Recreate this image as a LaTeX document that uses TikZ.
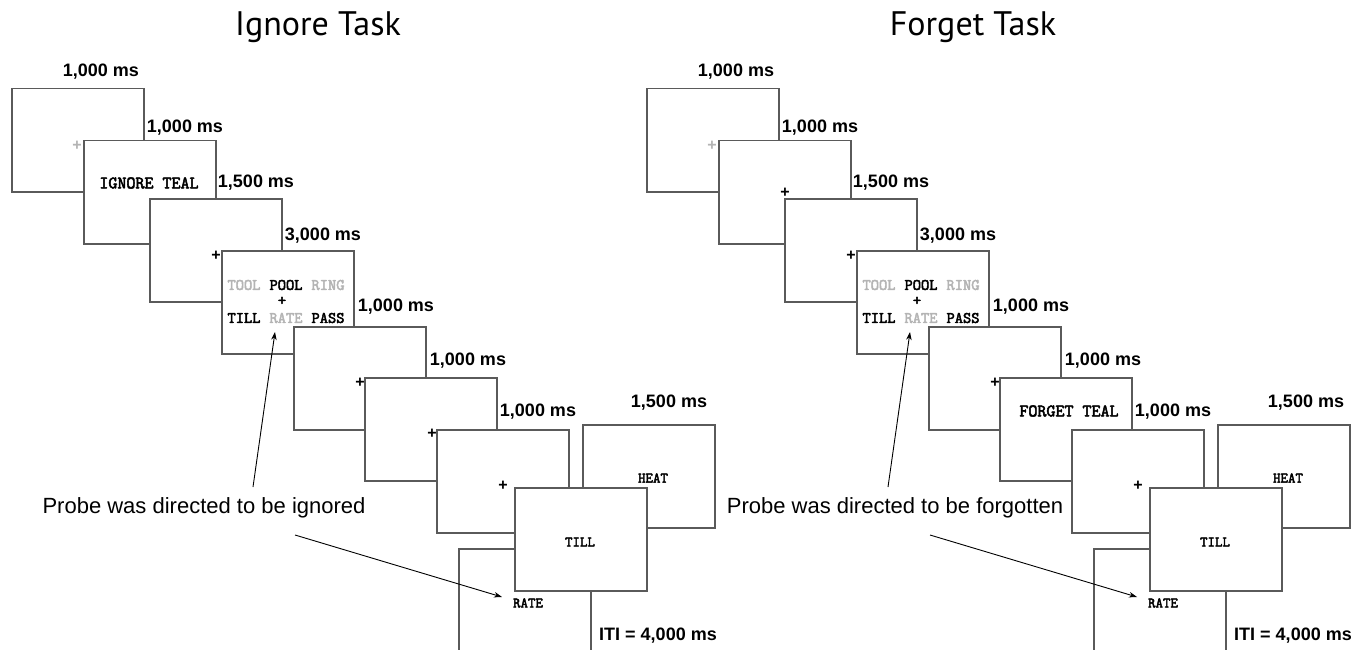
\documentclass[tikz,border=0pt]{standalone}
\usepackage{fontspec}
\setmainfont{Liberation Sans}
\newfontfamily\titlefont{PT Sans}
\newfontfamily\cfont[FakeBold=3]{Latin Modern Mono}
\usetikzlibrary{arrows.meta}
\definecolor{framegray}{HTML}{5A5A5A}
\definecolor{lightword}{HTML}{B4B4B4}
\begin{document}
\begin{tikzpicture}[x=1pt,y=-1pt,
  screen/.style={draw=framegray, line width=1.5pt, fill=white, minimum width=132pt, minimum height=103pt, inner sep=0pt, anchor=north west},
  dur/.style={font=\fontsize{18}{20}\selectfont\bfseries, inner sep=0pt},
  tasktitle/.style={font=\titlefont\fontsize{34}{38}\selectfont, inner sep=0pt},
  probelabel/.style={font=\fontsize{22}{24}\selectfont, inner sep=0pt},
  cue/.style={font=\cfont\fontsize{17.5}{19}\selectfont, inner sep=0pt},
  word/.style={font=\cfont\fontsize{16}{18}\selectfont, inner sep=0pt},
  dimword/.style={word, text=lightword},
  probeword/.style={font=\cfont\fontsize{14.5}{16}\selectfont, inner sep=0pt},
  fix/.style={font=\fontsize{16}{18}\selectfont\bfseries, inner sep=0pt},
  fixgray/.style={fix, text=lightword},
  pointer/.style={-{Stealth[length=8pt,width=5.5pt]}, line width=0.9pt, black}
]
\useasboundingbox (0,0) rectangle (1354,650);

% ---------------- Ignore task ----------------
\node[tasktitle] (ltitle) at (318,27) {Ignore Task};

\node[screen] (l1) at (11,88) {};
\node[fixgray] (lf1) at (77,146) {+};
\node[screen] (l2) at (83,140) {};
\node[cue] (lcue) at (149,183) {IGNORE TEAL};
\node[screen] (l3) at (149,198) {};
\node[fix] (lf3) at (216,256) {+};
\node[screen] (l4) at (221,250) {};
\node[dimword] (lw1) at (244,285) {TOOL};
\node[word] (lw2) at (286,285) {POOL};
\node[dimword] (lw3) at (328,285) {RING};
\node[word] (lwf) at (282,301) {+};
\node[word] (lw4) at (244,318) {TILL};
\node[dimword] (lw5) at (286,318) {RATE};
\node[word] (lw6) at (328,318) {PASS};
\node[screen] (l5) at (293,326) {};
\node[fix] (lf5) at (360,383) {+};
\node[screen] (l6) at (364,377) {};
\node[fix] (lf6) at (432,434) {+};
\node[screen] (l7) at (436,429) {};
\node[fix] (lf7) at (503,486) {+};
\node[screen] (l8) at (582,424) {};
\node[probeword] (lheat) at (653,478) {HEAT};
\node[screen] (l10) at (458,548) {};
\node[probeword] (lrate) at (528,603) {RATE};
\node[screen] (l9) at (514,487) {};
\node[probeword] (ltill) at (580,542) {TILL};

\node[dur] (ld1) at (101,72) {1,000 ms};
\node[dur] (ld2) at (185,128) {1,000 ms};
\node[dur] (ld3) at (256,183) {1,500 ms};
\node[dur] (ld4) at (323,236) {3,000 ms};
\node[dur] (ld5) at (396,307) {1,000 ms};
\node[dur] (ld6) at (468,361) {1,000 ms};
\node[dur] (ld7) at (538,412) {1,000 ms};
\node[dur] (ld8) at (669,403) {1,500 ms};
\node[dur] (ld9) at (658,636) {ITI = 4,000 ms};

\node[probelabel] (lprobe) at (204,508) {Probe was directed to be ignored};
\coordinate (lpa) at (253,487);
\coordinate (lta) at (275,332);
\coordinate (lpb) at (295,535);
\coordinate (ltb) at (502,597);
\draw[pointer] (lpa) -- (lta);
\draw[pointer] (lpb) -- (ltb);

% ---------------- Forget task ----------------
\node[tasktitle] (rtitle) at (973,27) {Forget Task};

\node[screen] (r1) at (646,88) {};
\node[fixgray] (rf1) at (712,146) {+};
\node[screen] (r2) at (718,140) {};
\node[fix] (rf2) at (785,193) {+};
\node[screen] (r3) at (784,198) {};
\node[fix] (rf3) at (851,256) {+};
\node[screen] (r4) at (856,250) {};
\node[dimword] (rw1) at (879,285) {TOOL};
\node[word] (rw2) at (921,285) {POOL};
\node[dimword] (rw3) at (963,285) {RING};
\node[word] (rwf) at (917,301) {+};
\node[word] (rw4) at (879,318) {TILL};
\node[dimword] (rw5) at (921,318) {RATE};
\node[word] (rw6) at (963,318) {PASS};
\node[screen] (r5) at (928,326) {};
\node[fix] (rf5) at (995,383) {+};
\node[screen] (r6) at (999,377) {};
\node[cue] (rcue) at (1069,411) {FORGET TEAL};
\node[screen] (r7) at (1071,429) {};
\node[fix] (rf7) at (1138,486) {+};
\node[screen] (r8) at (1217,424) {};
\node[probeword] (rheat) at (1288,478) {HEAT};
\node[screen] (r10) at (1093,548) {};
\node[probeword] (rrate) at (1163,603) {RATE};
\node[screen] (r9) at (1149,487) {};
\node[probeword] (rtill) at (1215,542) {TILL};

\node[dur] (rd1) at (736,72) {1,000 ms};
\node[dur] (rd2) at (820,128) {1,000 ms};
\node[dur] (rd3) at (891,183) {1,500 ms};
\node[dur] (rd4) at (958,236) {3,000 ms};
\node[dur] (rd5) at (1031,307) {1,000 ms};
\node[dur] (rd6) at (1103,361) {1,000 ms};
\node[dur] (rd7) at (1173,412) {1,000 ms};
\node[dur] (rd8) at (1306,403) {1,500 ms};
\node[dur] (rd9) at (1293,636) {ITI = 4,000 ms};

\node[probelabel] (rprobe) at (895,508) {Probe was directed to be forgotten};
\coordinate (rpa) at (888,487);
\coordinate (rta) at (910,332);
\coordinate (rpb) at (930,535);
\coordinate (rtb) at (1137,597);
\draw[pointer] (rpa) -- (rta);
\draw[pointer] (rpb) -- (rtb);
\end{tikzpicture}
\end{document}
